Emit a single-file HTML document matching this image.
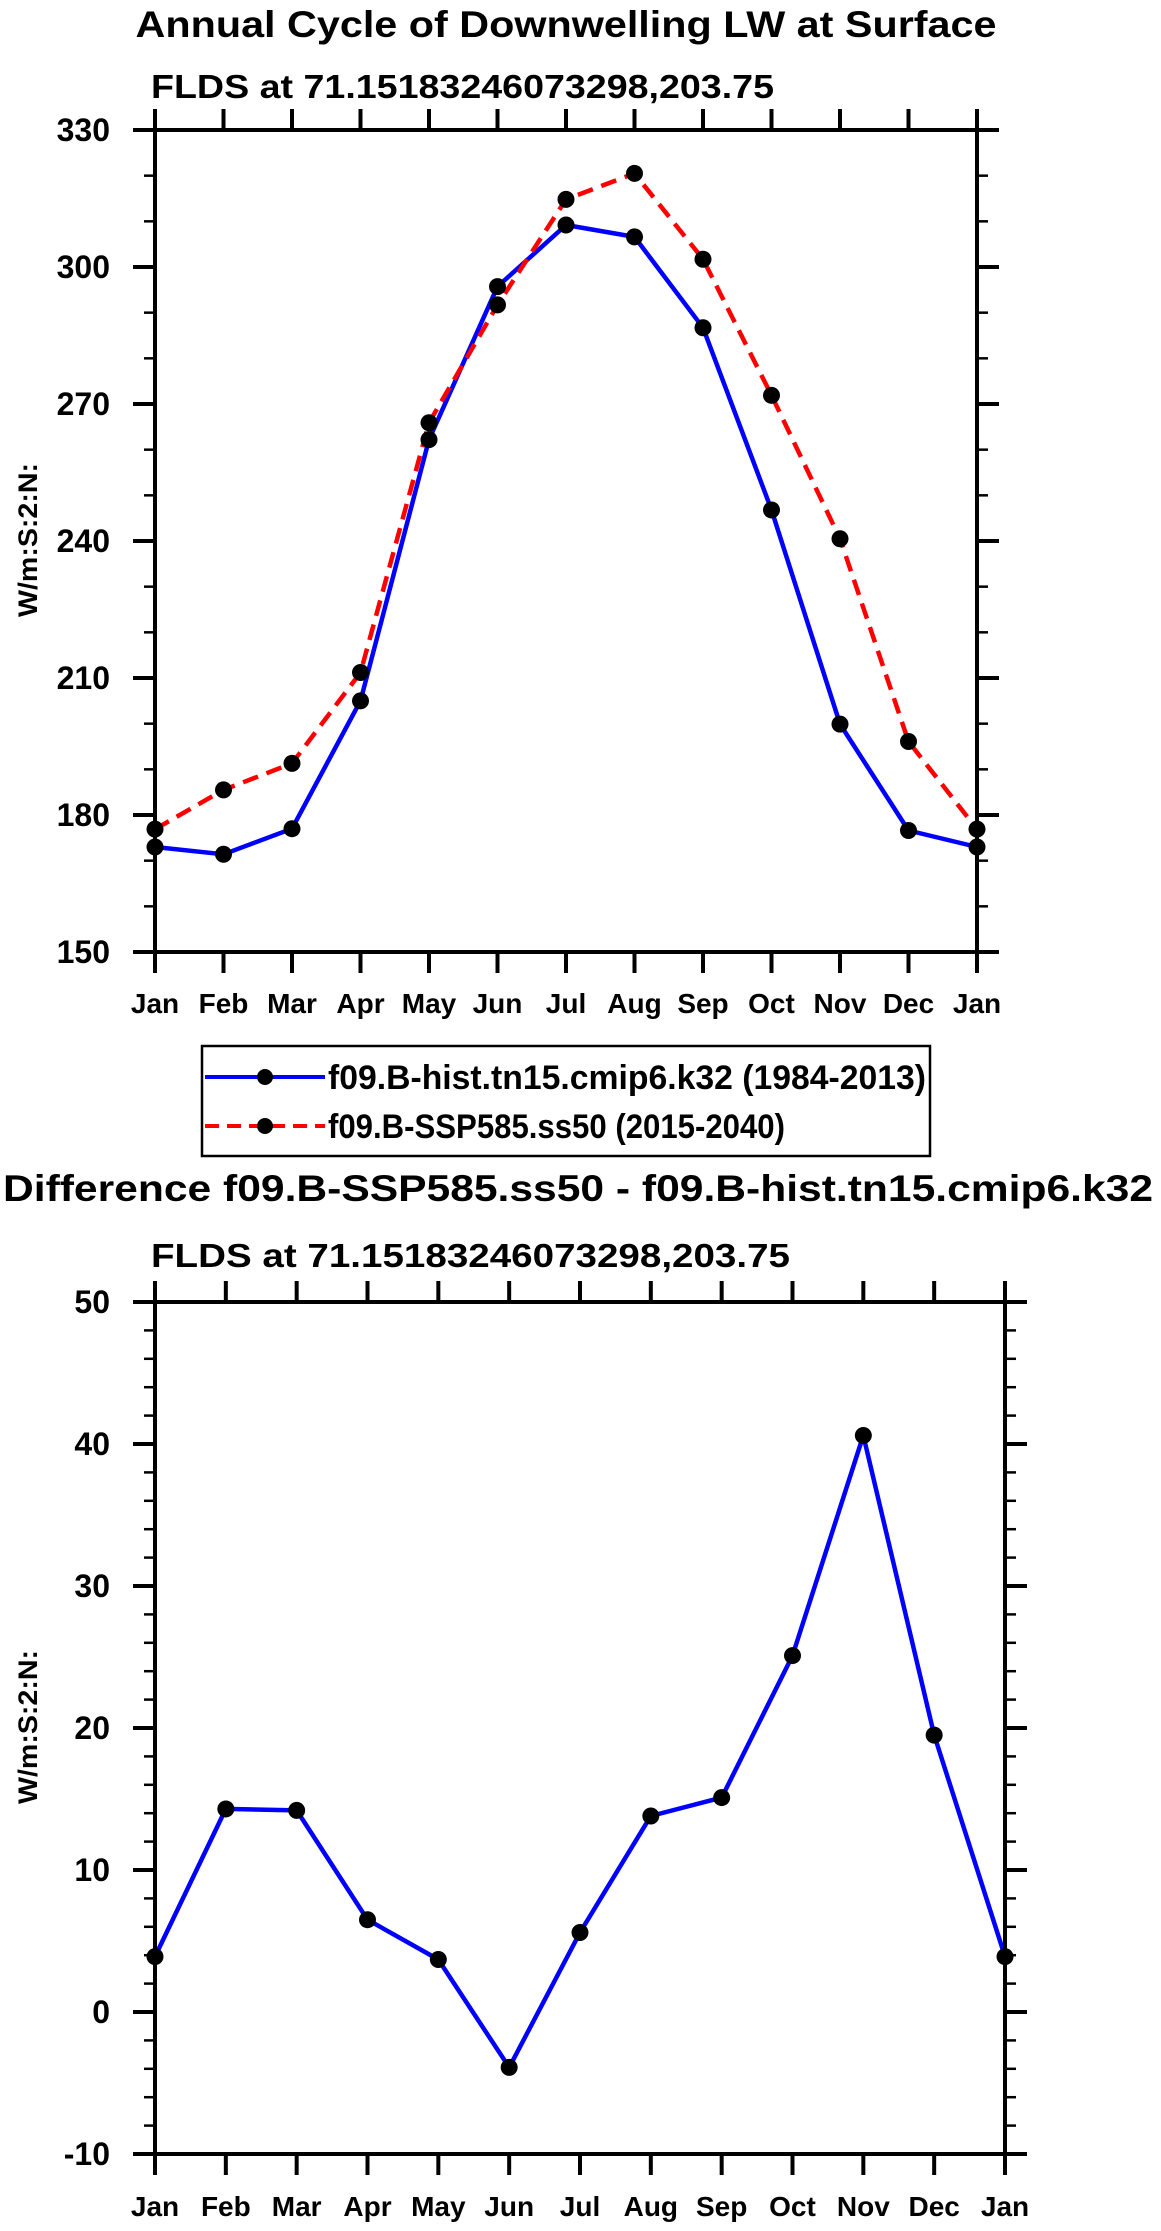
<!DOCTYPE html>
<html><head><meta charset="utf-8"><style>
html,body{margin:0;padding:0;background:#fff;}
svg{display:block;font-family:"Liberation Sans",Arial,sans-serif;font-weight:bold;}
</style></head><body>
<svg id="fig" width="1161" height="2231" viewBox="0 0 1161 2231" xmlns="http://www.w3.org/2000/svg">
<rect width="1161" height="2231" fill="#fff"/>
<text x="566" y="37" text-anchor="middle" font-size="37" textLength="861" lengthAdjust="spacingAndGlyphs">Annual Cycle of Downwelling LW at Surface</text>
<text x="151" y="98" font-size="33" textLength="623" lengthAdjust="spacingAndGlyphs">FLDS at 71.15183246073298,203.75</text>
<text x="578" y="1201" text-anchor="middle" font-size="37" textLength="1150" lengthAdjust="spacingAndGlyphs">Difference f09.B-SSP585.ss50 - f09.B-hist.tn15.cmip6.k32</text>
<text x="151" y="1267" font-size="33" textLength="639" lengthAdjust="spacingAndGlyphs">FLDS at 71.15183246073298,203.75</text>
<g id="top"></g>
<g id="bot"></g>
<g>
<rect x="202" y="1046" width="728" height="110" fill="none" stroke="#000" stroke-width="2.5"/>
<g>
<line x1="205" y1="1077" x2="325" y2="1077" stroke="#00f" stroke-width="4"/>
<circle cx="265" cy="1077" r="8" fill="#000"/>
<text x="328" y="1089" font-size="34" textLength="598" lengthAdjust="spacingAndGlyphs">f09.B-hist.tn15.cmip6.k32 (1984-2013)</text>
</g>
<g>
<line x1="205" y1="1126" x2="325" y2="1126" stroke="#f00" stroke-width="4" stroke-dasharray="14,8"/>
<circle cx="265" cy="1126" r="8" fill="#000"/>
<text x="328" y="1138" font-size="34" textLength="457" lengthAdjust="spacingAndGlyphs">f09.B-SSP585.ss50 (2015-2040)</text>
</g>
</g>
</svg>
<script>
const months = ["Jan","Feb","Mar","Apr","May","Jun","Jul","Aug","Sep","Oct","Nov","Dec","Jan"];
const histValues = [173, 171.4, 177, 205, 262.2, 295.7, 309.2, 306.6, 286.7, 246.8, 199.9, 176.6, 173];
const sspValues = [176.9, 185.5, 191.3, 211.2, 265.9, 291.7, 314.8, 320.5, 301.7, 271.9, 240.5, 196.1, 176.9];
const diffValues = [3.9, 14.3, 14.2, 6.5, 3.7, -3.9, 5.6, 13.8, 15.1, 25.1, 40.6, 19.5, 3.9];
const topYTicks = ["150","180","210","240","270","300","330"];
const botYTicks = ["-10","0","10","20","30","40","50"];

const NS = "http://www.w3.org/2000/svg";
function mk(parent, tag, attrs){const e=document.createElementNS(NS,tag);for(const k in attrs)e.setAttribute(k,attrs[k]);parent.appendChild(e);return e;}

function drawChart(g, box, ymin, ymax, minorStep, yticks, series, yTitleY, xLabelY){
  const xs = i => box.l + (box.r-box.l)*i/(months.length-1);
  const ys = v => box.b - (box.b-box.t)*(v-ymin)/(ymax-ymin);
  for(let v=ymin; v<=ymax+1e-9; v+=minorStep){
    const y=ys(v);
    const t1=mk(g,'line',{x1:box.l-11,y1:y,x2:box.l,y2:y,stroke:'#000','stroke-width':2.5});
    
    
    const t2=mk(g,'line',{x1:box.r,y1:y,x2:box.r+11,y2:y,stroke:'#000','stroke-width':2.5});
    
    
  }
  yticks.forEach(lbl=>{
    const v=parseFloat(lbl), y=ys(v);
    const a=mk(g,'line',{x1:box.l-22,y1:y,x2:box.l,y2:y,stroke:'#000','stroke-width':4});
    
    
    const b=mk(g,'line',{x1:box.r,y1:y,x2:box.r+22,y2:y,stroke:'#000','stroke-width':4});
    
    
    const tx=mk(g,'text',{x:box.l-45,y:y+11,'text-anchor':'end','font-size':32});
    tx.textContent=lbl;
    
    
  });
  months.forEach((m,i)=>{
    const x=xs(i);
    const a=mk(g,'line',{x1:x,y1:box.b,x2:x,y2:box.b+21,stroke:'#000','stroke-width':4});
    
    
    const b=mk(g,'line',{x1:x,y1:box.t-21,x2:x,y2:box.t,stroke:'#000','stroke-width':4});
    
    
    const tx=mk(g,'text',{x:x,y:xLabelY,'text-anchor':'middle','font-size':28});
    tx.textContent=m;
    
    
  });
  series.forEach(s=>{
    const pts=s.values.map((v,i)=>xs(i).toFixed(1)+','+ys(v).toFixed(1)).join(' ');
    const pl=mk(g,'polyline',{points:pts,fill:'none',stroke:s.color,'stroke-width':4.5,'stroke-linejoin':'round'});
    if(s.dash) pl.setAttribute('stroke-dasharray',s.dash);
    
    
  });
  series.forEach(s=>{
    s.values.forEach((v,i)=>{
      const c=mk(g,'circle',{cx:xs(i),cy:ys(v),r:8.5,fill:'#000'});
      
      
    });
  });
  const fr=mk(g,'rect',{x:box.l,y:box.t,width:box.r-box.l,height:box.b-box.t,fill:'none',stroke:'#000','stroke-width':4});
  
  
  const yt=mk(g,'text',{x:0,y:0,'text-anchor':'middle','font-size':27,textLength:154,lengthAdjust:'spacingAndGlyphs',transform:'translate(37,'+yTitleY+') rotate(-90)'});
  yt.textContent='W/m:S:2:N:';
  
  
}

drawChart(document.getElementById('top'), {l:155,r:977,t:130,b:952}, 150, 330, 10, topYTicks,
  [{name:'hist',values:histValues,color:'#00f'},{name:'ssp585',values:sspValues,color:'#f00',dash:'16,9'}], 540, 1013);
drawChart(document.getElementById('bot'), {l:155,r:1005,t:1302,b:2154}, -10, 50, 2, botYTicks,
  [{name:'difference',values:diffValues,color:'#00f'}], 1727, 2216);
</script>
</body></html>
